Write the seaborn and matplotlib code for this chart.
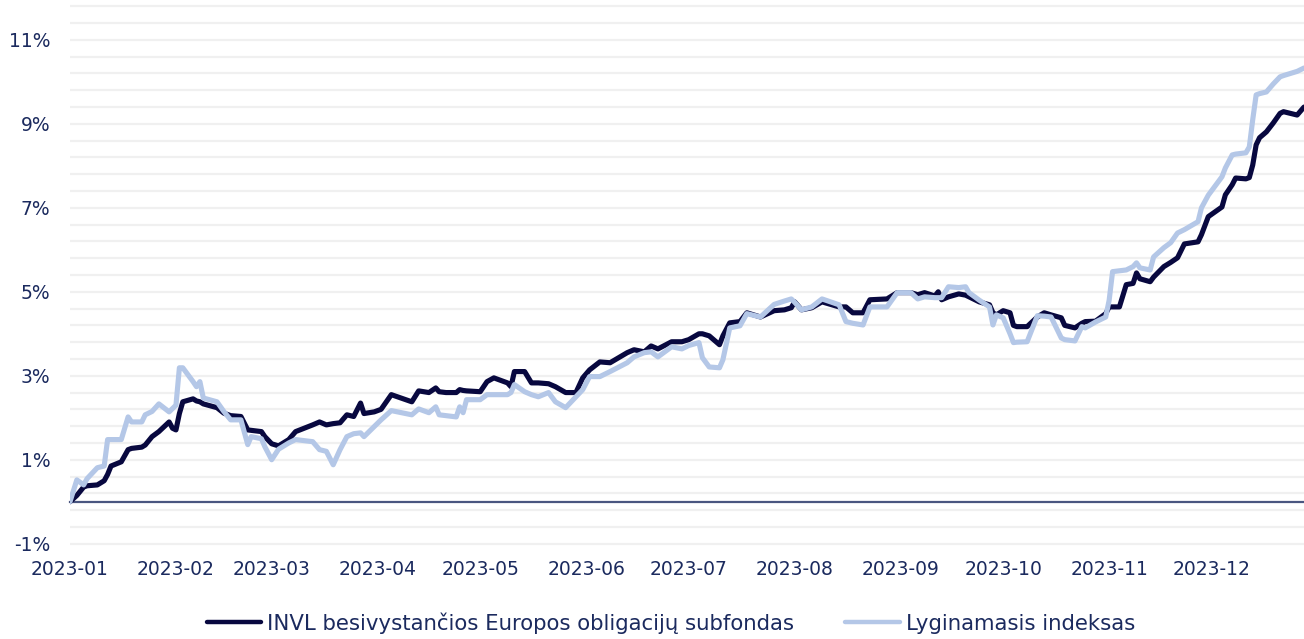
import pandas as pd
import numpy as np
import matplotlib
matplotlib.use("Agg")
import matplotlib.pyplot as plt
import seaborn as sns

# -------------------------------
# Data (cumulative return, %)
# -------------------------------
days = [
    "01-01", "01-03", "01-05", "01-06", "01-09", "01-11", "01-12", "01-13", "01-16", "01-18",
    "01-19", "01-22", "01-23", "01-25", "01-27", "01-30", "01-31", "02-01", "02-02", "02-03",
    "02-06", "02-07", "02-08", "02-09", "02-13", "02-15", "02-17", "02-20", "02-22", "02-23",
    "02-26", "02-27", "03-01", "03-03", "03-06", "03-08", "03-13", "03-15", "03-17", "03-19",
    "03-21", "03-23", "03-25", "03-27", "03-28", "03-31", "04-02", "04-05", "04-11", "04-13",
    "04-16", "04-18", "04-19", "04-21", "04-24", "04-25", "04-26", "04-27", "05-01", "05-03",
    "05-05", "05-09", "05-10", "05-11", "05-14", "05-16", "05-18", "05-21", "05-23", "05-26",
    "05-29", "05-31", "06-02", "06-05", "06-08", "06-13", "06-15", "06-18", "06-20", "06-22",
    "06-26", "06-29", "07-01", "07-04", "07-05", "07-07", "07-10", "07-11", "07-13", "07-16",
    "07-18", "07-22", "07-26", "07-29", "07-31", "08-01", "08-03", "08-06", "08-09", "08-14",
    "08-16", "08-18", "08-21", "08-23", "08-28", "08-31", "09-04", "09-06", "09-08", "09-11",
    "09-12", "09-13", "09-15", "09-18", "09-20", "09-21", "09-24", "09-27", "09-28", "09-29",
    "10-01", "10-03", "10-04", "10-05", "10-08", "10-11", "10-13", "10-15", "10-18", "10-19",
    "10-22", "10-24", "10-25", "10-28", "10-31", "11-01", "11-02", "11-04", "11-06", "11-08",
    "11-09", "11-10", "11-13", "11-14", "11-17", "11-19", "11-21", "11-23", "11-27", "11-28",
    "11-30", "12-04", "12-05", "12-07", "12-08", "12-11", "12-12", "12-13", "12-14", "12-15",
    "12-17", "12-19", "12-21", "12-22", "12-26", "12-28",
]

fund = [
    0, 0.15, 0.35, 0.38, 0.40, 0.50, 0.65, 0.85, 0.95, 1.24,
    1.27, 1.30, 1.35, 1.55, 1.67, 1.90, 1.75, 1.71, 2.10, 2.38,
    2.45, 2.40, 2.38, 2.33, 2.24, 2.11, 2.05, 2.03, 1.71, 1.70,
    1.67, 1.55, 1.38, 1.33, 1.48, 1.67, 1.83, 1.90, 1.83, 1.86,
    1.88, 2.07, 2.03, 2.35, 2.10, 2.14, 2.20, 2.55, 2.38, 2.64,
    2.60, 2.71, 2.62, 2.60, 2.60, 2.67, 2.65, 2.64, 2.62, 2.86,
    2.95, 2.83, 2.74, 3.10, 3.10, 2.83, 2.83, 2.81, 2.74, 2.60,
    2.60, 2.95, 3.14, 3.33, 3.31, 3.55, 3.62, 3.57, 3.71, 3.64,
    3.81, 3.81, 3.86, 4.00, 4.00, 3.95, 3.74, 3.95, 4.26, 4.29,
    4.50, 4.40, 4.55, 4.57, 4.62, 4.76, 4.57, 4.62, 4.76, 4.64,
    4.64, 4.50, 4.50, 4.81, 4.83, 4.98, 4.98, 4.93, 4.98, 4.90,
    5.00, 4.81, 4.88, 4.95, 4.92, 4.88, 4.76, 4.69, 4.50, 4.45,
    4.55, 4.50, 4.20, 4.17, 4.17, 4.40, 4.50, 4.45, 4.38, 4.20,
    4.14, 4.25, 4.29, 4.30, 4.48, 4.64, 4.64, 4.64, 5.17, 5.20,
    5.45, 5.31, 5.24, 5.35, 5.60, 5.70, 5.81, 6.14, 6.19, 6.36,
    6.79, 7.02, 7.31, 7.55, 7.71, 7.69, 7.72, 8.02, 8.50, 8.67,
    8.81, 9.02, 9.25, 9.29, 9.21, 9.40,
]

benchmark = [
    0, 0.52, 0.40, 0.55, 0.81, 0.85, 1.48, 1.48, 1.48, 2.02,
    1.90, 1.90, 2.07, 2.15, 2.33, 2.14, 2.22, 2.30, 3.19, 3.19,
    2.86, 2.74, 2.86, 2.47, 2.38, 2.15, 1.95, 1.95, 1.36, 1.55,
    1.50, 1.31, 1.00, 1.25, 1.40, 1.48, 1.43, 1.24, 1.20, 0.88,
    1.24, 1.55, 1.62, 1.64, 1.55, 1.79, 1.95, 2.17, 2.07, 2.21,
    2.12, 2.26, 2.07, 2.05, 2.02, 2.26, 2.12, 2.43, 2.43, 2.55,
    2.55, 2.55, 2.60, 2.79, 2.62, 2.55, 2.50, 2.60, 2.38, 2.24,
    2.50, 2.67, 2.98, 2.98, 3.10, 3.31, 3.45, 3.55, 3.57, 3.45,
    3.69, 3.64, 3.72, 3.79, 3.43, 3.21, 3.19, 3.38, 4.14, 4.19,
    4.48, 4.40, 4.70, 4.78, 4.83, 4.75, 4.57, 4.64, 4.83, 4.69,
    4.29, 4.25, 4.21, 4.64, 4.64, 4.98, 4.98, 4.83, 4.88, 4.86,
    4.86, 4.86, 5.12, 5.10, 5.12, 4.98, 4.80, 4.64, 4.21, 4.45,
    4.38, 4.00, 3.79, 3.80, 3.81, 4.43, 4.42, 4.40, 3.90, 3.86,
    3.83, 4.17, 4.14, 4.28, 4.40, 4.80, 5.48, 5.50, 5.52, 5.60,
    5.69, 5.57, 5.52, 5.83, 6.05, 6.17, 6.40, 6.48, 6.67, 7.00,
    7.30, 7.74, 7.95, 8.26, 8.28, 8.31, 8.45, 9.10, 9.69, 9.72,
    9.76, 9.95, 10.12, 10.15, 10.25, 10.33,
]

fund_name = "INVL besivystančios Europos obligacijų subfondas"
bench_name = "Lyginamasis indeksas"
month_labels = ["2023-01", "2023-02", "2023-03", "2023-04", "2023-05", "2023-06",
                "2023-07", "2023-08", "2023-09", "2023-10", "2023-11", "2023-12"]
y_labels = [-1, 1, 3, 5, 7, 9, 11]

df = pd.DataFrame({
    "date": pd.to_datetime(["2023-" + d for d in days]),
    "fund": fund,
    "bench": benchmark,
})

# -------------------------------
# Plot
# -------------------------------
sns.set_theme(style="white")
plt.rcParams["font.family"] = ["DejaVu Sans"]

text_col = "#1b2a5e"
navy = "#08083f"
light = "#b4c7e7"

fig = plt.figure(figsize=(13.04, 6.39), dpi=100)
ax = fig.add_axes([70 / 1304, 1 - 550 / 639, 1 - 70 / 1304, 550 / 639])

sns.lineplot(data=df, x="date", y="fund", ax=ax, color=navy, linewidth=3.7, label=fund_name)
sns.lineplot(data=df, x="date", y="bench", ax=ax, color=light, linewidth=3.7, label=bench_name)

# grid every 0.4 %, labels every 2 %
ax.set_yticks(y_labels)
ax.set_yticklabels([f"{v}%" for v in y_labels])
ax.set_yticks(np.arange(-1.4, 11.95, 0.4), minor=True)
ax.grid(which="both", axis="y", color="#f0f0f0", linewidth=1.6)
ax.set_axisbelow(True)
ax.tick_params(axis="y", which="both", length=0, pad=14, labelsize=13.5, labelcolor=text_col)

ticks = pd.to_datetime(month_labels)
ax.set_xticks(ticks)
ax.set_xticklabels(month_labels)
ax.tick_params(axis="x", length=4, width=1.5, color="#4a5680", pad=38,
               labelsize=13.5, labelcolor=text_col)

ax.set_xlim(pd.Timestamp("2023-01-01"), df["date"].iloc[-1])
ax.set_ylim(-1.15, 11.95)

for s in ["top", "right", "left"]:
    ax.spines[s].set_visible(False)
ax.spines["bottom"].set_position(("data", 0))
ax.spines["bottom"].set_color("#4a5680")
ax.spines["bottom"].set_linewidth(1.6)
ax.spines["bottom"].set_zorder(1)

ax.set_xlabel("")
ax.set_ylabel("")

handles, labels = ax.get_legend_handles_labels()
ax.get_legend().remove()
leg = fig.legend(handles, labels, loc="center", bbox_to_anchor=(671 / 1304, 1 - 623 / 639),
                 ncol=2, frameon=False, fontsize=15.3, handlelength=2.55,
                 handletextpad=0.3, columnspacing=2.4)
for t in leg.get_texts():
    t.set_color(text_col)
for ln in leg.get_lines():
    ln.set_linewidth(3.2)
    ln.set_solid_capstyle("round")

fig.savefig("out.png", dpi=100)
